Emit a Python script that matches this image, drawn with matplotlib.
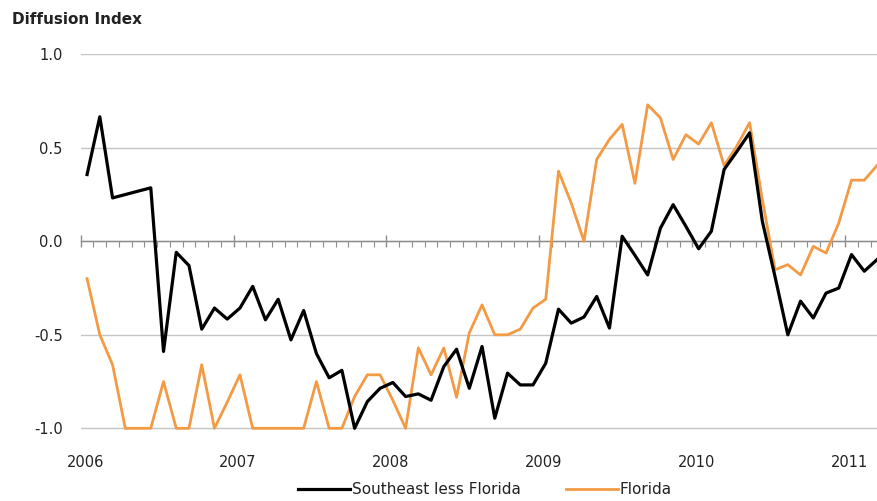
import numpy as np
import matplotlib
matplotlib.use("Agg")
import matplotlib.pyplot as plt

years = ["2006", "2007", "2008", "2009", "2010", "2011"]
southeast_less_florida = [0.357, 0.666, 0.232, 0.25, 0.268, 0.286, -0.589, -0.059, -0.13, -0.47,
                          -0.357, -0.416, -0.357, -0.241, -0.42, -0.31, -0.527, -0.37, -0.6, -0.73,
                          -0.69, -1.0, -0.857, -0.786, -0.755, -0.83, -0.816, -0.85, -0.67, -0.577,
                          -0.786, -0.5625, -0.946, -0.705, -0.768, -0.768, -0.652, -0.363, -0.4375, -0.405,
                          -0.295, -0.464, 0.027, -0.075, -0.18, 0.07, 0.196, 0.08, -0.04, 0.054,
                          0.384, 0.48, 0.58, 0.107, -0.19, -0.5, -0.32, -0.41, -0.277, -0.25,
                          -0.071, -0.16, -0.098]
florida = [-0.2, -0.5, -0.66, -1.0, -1.0, -1.0, -0.75, -1.0, -1.0, -0.66,
           -1.0, -0.86, -0.714, -1.0, -1.0, -1.0, -1.0, -1.0, -0.75, -1.0,
           -1.0, -0.83, -0.714, -0.714, -0.85, -1.0, -0.57, -0.714, -0.57, -0.834,
           -0.49, -0.34, -0.5, -0.5, -0.47, -0.357, -0.31, 0.375, 0.205, 0.0,
           0.4375, 0.545, 0.625, 0.31, 0.73, 0.66, 0.4375, 0.57, 0.52, 0.634,
           0.405, 0.51, 0.634, 0.223, -0.152, -0.125, -0.18, -0.027, -0.0625, 0.098,
           0.327, 0.327, 0.405]
yticks = [-1.0, -0.5, 0.0, 0.5, 1.0]
ytick_labels = ["-1.0", "-0.5", "0.0", "0.5", "1.0"]

W, H = 877, 501
fig = plt.figure(figsize=(W / 100, H / 100), dpi=100)
left = 80.7 / W
px_per_unit = (428.3 - 54.3) / 2.0
ymin_ext = 1.0 + 4.0 / px_per_unit
bottom = 1 - (428.3 + 4.0) / H
top = 1 - 54.3 / H
ax = fig.add_axes([left, bottom, 1.0 - left, top - bottom])

n = len(florida)
x = np.arange(n)
ax.plot(x, southeast_less_florida, color="black", lw=2.3, label="Southeast less Florida",
        clip_on=False, zorder=4)
ax.plot(x, florida, color="#F39A45", lw=2.0, label="Florida", clip_on=False, zorder=3)

ax.set_xlim(-0.5, 62.0)
ax.set_ylim(-ymin_ext, 1.0)

for s in ["top", "right", "left"]:
    ax.spines[s].set_visible(False)
ax.spines["bottom"].set_position(("data", 0))
ax.spines["bottom"].set_color("#8c8c8c")
ax.spines["bottom"].set_linewidth(1.0)
ax.spines["bottom"].set_zorder(2)

year_pos = np.arange(len(years)) * 12 - 0.5
ax.set_xticks(year_pos)
ax.set_xticks(np.arange(-0.5, 62.0, 1.0), minor=True)
ax.tick_params(axis="x", which="major", direction="inout", length=9, width=1.0,
               color="#8c8c8c", labelbottom=False)
ax.tick_params(axis="x", which="minor", direction="out", length=4, width=0.8,
               color="#8c8c8c")

ax.set_yticks(yticks, labels=ytick_labels)
ax.tick_params(axis="y", length=0, pad=13, labelsize=10.5, labelcolor="#222222")
ax.grid(axis="y", color="#c4c4c4", lw=1.0)
ax.set_axisbelow(True)

sec = ax.secondary_xaxis("bottom")
sec.set_xticks(year_pos + 0.35, labels=years)
sec.tick_params(length=0, pad=16, labelsize=10.5, labelcolor="#222222")
sec.spines["bottom"].set_visible(False)

fig.text(12 / W, 1 - 20 / H, "Diffusion Index", fontsize=11, fontweight="bold",
         ha="left", va="center", color="#222222")

fig.legend(loc="center", bbox_to_anchor=(0.553, 1 - 490 / H), ncol=2, frameon=False,
           fontsize=11, handlelength=3.4, handletextpad=0.1, columnspacing=3.0,
           labelcolor="#222222")

fig.savefig("out.png", dpi=100)
